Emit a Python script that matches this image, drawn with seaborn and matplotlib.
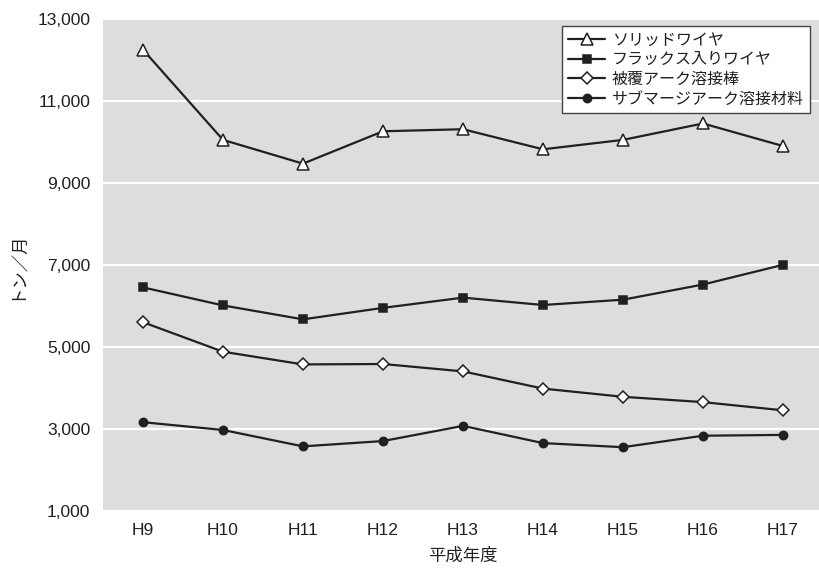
import matplotlib
matplotlib.use("Agg")
import matplotlib.pyplot as plt
import matplotlib.ticker as mticker
import pandas as pd
import seaborn as sns

# Fiscal years (Heisei) and monthly output in tonnes per series
years = ["H9", "H10", "H11", "H12", "H13", "H14", "H15", "H16", "H17"]
solid_wire = [12250, 10050, 9470, 10260, 10310, 9820, 10050, 10450, 9900]
flux_cored_wire = [6450, 6010, 5670, 5950, 6200, 6020, 6150, 6520, 7000]
covered_electrode = [5600, 4880, 4570, 4580, 4400, 3980, 3780, 3650, 3450]
submerged_arc = [3160, 2970, 2570, 2700, 3070, 2650, 2550, 2830, 2850]

series_names = ["ソリッドワイヤ", "フラックス入りワイヤ", "被覆アーク溶接棒", "サブマージアーク溶接材料"]
y_ticks = [1000, 3000, 5000, 7000, 9000, 11000, 13000]

sns.set_theme(style="white")
plt.rcParams["font.family"] = ["Liberation Sans", "Noto Sans CJK JP", "DejaVu Sans"]

ink = "#231f20"
panel = "#dcdddf"

fig = plt.figure(figsize=(8.2, 5.68), dpi=100)
ax = fig.add_axes([103 / 820, 57.3 / 568, 720 / 820, 491.7 / 568])
ax.set_facecolor(panel)

styles = [
    dict(marker="^", markersize=8, markerfacecolor="white"),
    dict(marker="s", markersize=6, markerfacecolor=ink),
    dict(marker="D", markersize=6, markerfacecolor="white"),
    dict(marker="o", markersize=6, markerfacecolor=ink),
]
values = [solid_wire, flux_cored_wire, covered_electrode, submerged_arc]

for name, vals, st in zip(series_names, values, styles):
    df = pd.DataFrame({"year": years, "tons": vals})
    sns.lineplot(data=df, x="year", y="tons", ax=ax, color=ink, linewidth=1.6,
                 markeredgecolor=ink, markeredgewidth=1.1, label=name,
                 legend=False, **st)

ax.set_xlim(-0.5, 8.5)
ax.set_ylim(1000, 13000)
ax.set_yticks(y_ticks)
ax.yaxis.set_major_formatter(mticker.FuncFormatter(lambda v, p: f"{int(v):,}"))
ax.set_xticks(range(len(years)))
ax.set_xticklabels(years)
ax.set_xticks([i - 0.5 for i in range(len(years) + 1)], minor=True)

ax.grid(False)
ax.yaxis.grid(True, color="white", linewidth=1.6)
ax.set_axisbelow(True)
for s in ax.spines.values():
    s.set_visible(False)

ax.tick_params(axis="x", which="major", length=0, pad=9, labelsize=12.5, labelcolor=ink)
ax.tick_params(axis="x", which="minor", direction="in", length=4, width=0.8, color="#666666")
ax.tick_params(axis="y", length=0, pad=9, labelsize=12.5, labelcolor=ink)

ax.set_xlabel("平成年度", fontsize=12.5, color=ink, labelpad=7)
ax.set_ylabel("トン／月", fontsize=12.5, color=ink, labelpad=9)

leg = ax.legend(loc="upper right", bbox_to_anchor=(810 / 820, 1 - 26 / 568),
                bbox_transform=fig.transFigure, fontsize=11.5, frameon=True,
                fancybox=False, framealpha=1, edgecolor="#444444",
                handlelength=2.3, handletextpad=0.4, labelspacing=0.3,
                borderpad=0.4, borderaxespad=0)
leg.get_frame().set_linewidth(1.0)
for t in leg.get_texts():
    t.set_color(ink)

fig.savefig("out.png", dpi=100, facecolor="white")
